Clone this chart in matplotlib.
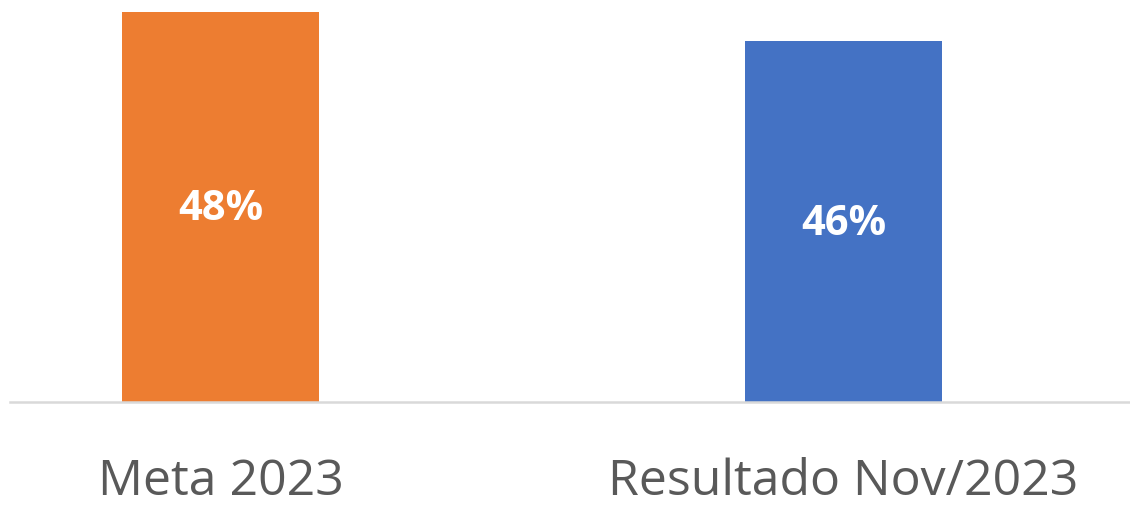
import matplotlib

matplotlib.use("Agg")
import matplotlib.pyplot as plt

# data
categories = ["Meta 2023", "Resultado Nov/2023"]
values = [48, 46]
value_labels = ["48%", "46%"]
bar_colors = ["#ED7D31", "#4472C4"]

plt.rcParams["font.family"] = ["Open Sans", "DejaVu Sans"]

fig = plt.figure(figsize=(11.3, 5.08), dpi=100)
ax = fig.add_axes([10 / 1130, 106 / 508, 1120 / 1130, 402 / 508])

x = list(range(len(categories)))
ax.bar(x, values, width=0.316, color=bar_colors, zorder=2)

y_low, y_high = 21.1, 48.83
ax.set_ylim(y_low, y_high)
ax.set_xlim(-0.338, 1.46)

for xi, v, lab in zip(x, values, value_labels):
    ax.text(xi, (y_low + v) / 2 - 0.2, lab, ha="center", va="center",
            color="white", fontsize=30, fontweight="bold")

ax.set_xticks(x)
ax.set_xticklabels(categories, fontsize=36, color="#595959")
ax.tick_params(axis="x", length=0, pad=40)
ax.set_yticks([])

for side in ["top", "left", "right"]:
    ax.spines[side].set_visible(False)
ax.spines["bottom"].set_color("#D9D9D9")
ax.spines["bottom"].set_linewidth(1.8)

fig.savefig("out.png", dpi=100)
